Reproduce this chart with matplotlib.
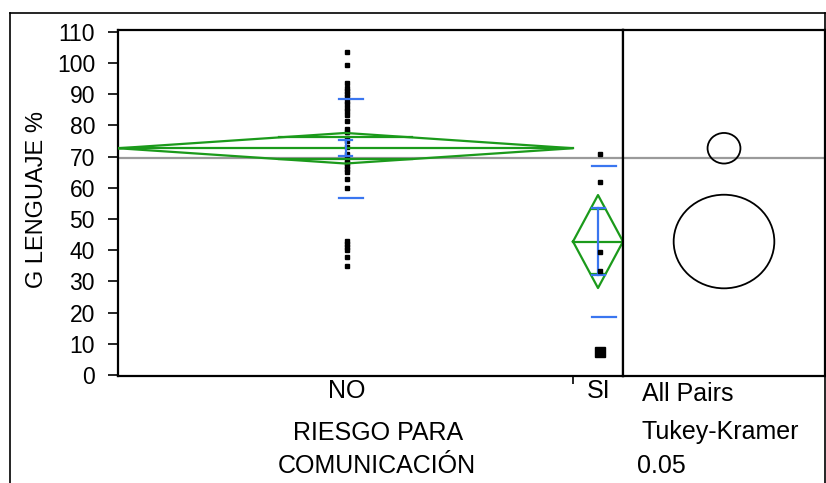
import matplotlib.pyplot as plt
from matplotlib.lines import Line2D
from matplotlib.patches import Ellipse

plt.rcParams['font.family'] = ['Liberation Sans', 'DejaVu Sans']

# groups of RIESGO PARA COMUNICACIÓN, widths follow the group sizes
groups = ["NO", "SI"]
group_n = [91, 10]

# G LENGUAJE % per group
no_scores = [103.5, 99.5, 93.5, 92, 91, 90, 89, 88, 87, 85.5, 84.5, 83.5, 81.5,
             79, 78, 76, 75, 73, 71, 70, 69, 68, 67, 66, 65, 63, 60,
             43, 42, 41, 40, 38, 35]
si_scores = [70.8, 62, 39.3, 33.3]
si_stacked = [7.5]  # several repeated values drawn as one large mark

# summary statistics per group
means = [72.7, 42.8]
ci_half = [4.9, 14.9]
se = [2.5, 10.7]
sd = [15.9, 24.2]
grand_mean = 69.7
circle_radius = [4.9, 15.0]

yticks = list(range(0, 111, 10))

GREEN = '#1b9a1b'
BLUE = '#3a76f0'
GRAY = '#9a9a9a'

W, H = 826, 483
fig = plt.figure(figsize=(W / 100, H / 100), dpi=100)


def box(x0, y0, x1, y1):
    return [x0 / W, 1 - y1 / H, (x1 - x0) / W, (y1 - y0) / H]


ax = fig.add_axes(box(118, 30, 623, 376))
ax2 = fig.add_axes(box(623, 30, 825, 376), sharey=ax)

total = sum(group_n)
edges = [0]
for n in group_n:
    edges.append(edges[-1] + n)

ax.axhline(grand_mean, color=GRAY, lw=1.6, zorder=1)
ax2.axhline(grand_mean, color=GRAY, lw=1.6, zorder=1)

for i, g in enumerate(groups):
    left, right = edges[i], edges[i + 1]
    c = (left + right) / 2
    m, h = means[i], ci_half[i]
    # means diamond
    ax.plot([left, c, right, c, left], [m, m + h, m, m - h, m], color=GREEN, lw=1.6, zorder=3)
    ax.plot([left, right], [m, m], color=GREEN, lw=1.6, zorder=3)
    # overlap marks
    d = h / 2 ** 0.5
    half = (right - left) / 2 * (1 - 1 / 2 ** 0.5)
    for y in (m + d, m - d):
        ax.plot([c - half, c + half], [y, y], color=GREEN, lw=1.6, zorder=3)
    # standard error bars
    ax.plot([c, c], [m - se[i], m + se[i]], color=BLUE, lw=1.6, zorder=4)
    for y in (m - se[i], m + se[i]):
        ax.plot([c - 1.3, c + 1.3], [y, y], color=BLUE, lw=1.6, zorder=4)
    # standard deviation lines
    for y in (m - sd[i], m + sd[i]):
        ax.plot([c - 1.3, c + 3.5], [y, y], color=BLUE, lw=1.6, zorder=4)

c_no = (edges[0] + edges[1]) / 2
c_si = (edges[1] + edges[2]) / 2
ax.plot([c_no + 0.3] * len(no_scores), no_scores, 's', color='black', ms=3, zorder=2)
ax.plot([c_si + 0.3] * len(si_scores), si_scores, 's', color='black', ms=3, zorder=5)
ax.plot([c_si + 0.3] * len(si_stacked), si_stacked, 's', color='black', ms=6.5, zorder=5)

ax.set_xlim(0, total)
ax.set_ylim(-0.3, 110.6)
ax.set_yticks(yticks)
ax.set_xticks([edges[1]])
ax.set_xticklabels([])
ax.tick_params(axis='y', length=7.5, width=1.2, labelsize=16.5, pad=9)
ax.tick_params(axis='x', length=6, width=1.2)
for s in ax.spines.values():
    s.set_linewidth(1.6)

# comparison circles
ax2.set_xlim(0, 60.2)
for m, r in zip(means, circle_radius):
    ax2.add_patch(Ellipse((30.1, m), 2 * r, 2 * r, fill=False, ec='black', lw=1.3, zorder=3))
ax2.tick_params(left=False, labelleft=False, bottom=False, labelbottom=False)
for s in ax2.spines.values():
    s.set_linewidth(1.6)

# outer frame
fig.add_artist(Line2D([9.5 / W, 9.5 / W], [0, 1 - 12.5 / H], color='black', lw=1.2,
                      transform=fig.transFigure))
fig.add_artist(Line2D([9.5 / W, 825 / W], [1 - 12.5 / H, 1 - 12.5 / H], color='black', lw=1.2,
                      transform=fig.transFigure))
fig.add_artist(Line2D([825 / W, 825 / W], [0, 1 - 12.5 / H], color='black', lw=1.2,
                      transform=fig.transFigure))


def label(x, y, s, ha='center'):
    fig.text(x / W, 1 - y / H, s, ha=ha, va='baseline', fontsize=18)


label(347, 398, groups[0])
label(599, 398, groups[1])
label(642, 401, "All Pairs", ha='left')
label(378, 440, "RIESGO PARA")
label(377, 473, "COMUNICACIÓN")
label(642, 439, "Tukey-Kramer", ha='left')
label(637, 473, "0.05", ha='left')
fig.text(37 / W, 1 - 200 / H, "G LENGUAJE %", rotation=90, ha='center', va='center', fontsize=17)

fig.savefig("out.png", dpi=100)
